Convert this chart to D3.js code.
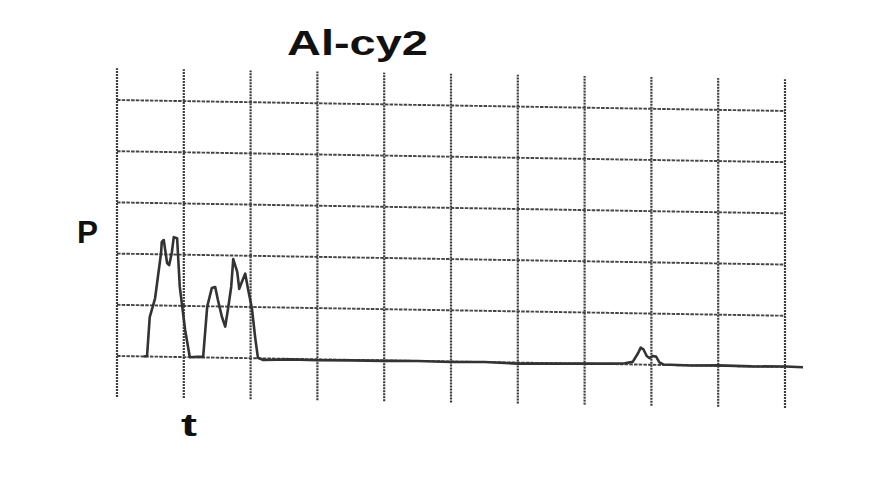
<!DOCTYPE html>
<html>
<head>
<meta charset="utf-8">
<script src="https://cdn.jsdelivr.net/npm/d3@7"></script>
<style>
  html, body { margin: 0; padding: 0; background: #fff; }
  svg { display: block; }
</style>
</head>
<body>
<script>
// Chart-recorder trace: power P against time t, Al-cy2 run
const title = "Al-cy2";
const yLabel = "P";
const xLabel = "t";

// grid divisions (time and power)
const xDivisions = [0, 1, 2, 3, 4, 5, 6, 7, 8, 9, 10];
const yDivisions = [0, 1, 2, 3, 4, 5];

// recorded trace, time in divisions
const traceT = [0.40, 0.45, 0.49, 0.57, 0.66, 0.67, 0.70, 0.75, 0.78, 0.82, 0.85, 0.90, 0.94, 1.02, 1.09, 1.20,
  1.29, 1.35, 1.42, 1.47, 1.51, 1.57, 1.62, 1.66, 1.71, 1.74, 1.80, 1.83, 1.87, 1.92, 1.96, 2.02, 2.07, 2.11, 2.19,
  2.6, 3.0, 3.5, 4.0, 4.5, 5.0, 5.5, 6.0, 6.5, 7.0, 7.4, 7.6, 7.72, 7.80, 7.84, 7.88, 7.93, 7.97, 8.02, 8.07, 8.12, 8.18,
  8.6, 9.0, 9.5, 10.0, 10.27];
// recorded trace, power in divisions
const traceP = [0.00, 0.01, 0.77, 1.14, 2.03, 2.24, 2.28, 1.83, 1.79, 2.03, 2.34, 2.32, 1.37, 0.53, 0.00, 0.01,
  0.01, 0.99, 1.36, 1.38, 1.13, 0.80, 0.61, 0.94, 1.39, 1.93, 1.68, 1.35, 1.49, 1.65, 1.36, 0.97, 0.39, 0.01, -0.03,
  -0.01, -0.02, -0.01, -0.01, 0.00, -0.01, 0.00, -0.02, -0.01, 0.00, 0.01, 0.02, 0.05, 0.22, 0.33, 0.30, 0.17, 0.13, 0.17, 0.16, 0.05, 0.01,
  0.00, 0.01, 0.00, 0.01, 0.00];

const width = 881, height = 480;
const svg = d3.select("body").append("svg")
  .attr("width", width).attr("height", height);

const x = d3.scaleLinear().domain([0, 10]).range([0, 668]);
const y = d3.scaleLinear().domain([0, 5]).range([0, -256]);

// the paper sits slightly skewed on the recorder
const plot = svg.append("g")
  .attr("transform", "translate(117,356) skewY(0.94)");

// vertical chart lines, running past the top and bottom rulings
plot.append("g").selectAll("line")
  .data(xDivisions).join("line")
  .attr("x1", d => x(d)).attr("x2", d => x(d))
  .attr("y1", y(-0.8)).attr("y2", y(5.62))
  .attr("stroke", "#3c3c3c")
  .attr("stroke-width", 2.2)
  .attr("stroke-dasharray", "2,1");

// horizontal chart lines
plot.append("g").selectAll("line")
  .data(yDivisions).join("line")
  .attr("x1", x(0)).attr("x2", x(10))
  .attr("y1", d => y(d)).attr("y2", d => y(d))
  .attr("stroke", "#444")
  .attr("stroke-width", 1.9)
  .attr("stroke-dasharray", "3.5,1.2");

// pen trace
const line = d3.line()
  .x((d, i) => x(traceT[i]))
  .y(d => y(d));

plot.append("path")
  .datum(traceP)
  .attr("d", line)
  .attr("fill", "none")
  .attr("stroke", "#333")
  .attr("stroke-width", 2.6)
  .attr("stroke-linejoin", "round");

// labels
const font = "'Liberation Sans', Arial, sans-serif";
svg.append("text")
  .attr("x", 287).attr("y", 55)
  .attr("font-family", font).attr("font-weight", "bold")
  .attr("font-size", 35)
  .attr("textLength", 141).attr("lengthAdjust", "spacingAndGlyphs")
  .attr("fill", "#111")
  .text(title);

svg.append("text")
  .attr("x", 77).attr("y", 243)
  .attr("font-family", font).attr("font-weight", "bold")
  .attr("font-size", 31)
  .attr("textLength", 21).attr("lengthAdjust", "spacingAndGlyphs")
  .attr("fill", "#111")
  .text(yLabel);

svg.append("text")
  .attr("x", 181).attr("y", 436)
  .attr("font-family", font).attr("font-weight", "bold")
  .attr("font-size", 31)
  .attr("textLength", 16).attr("lengthAdjust", "spacingAndGlyphs")
  .attr("fill", "#111")
  .text(xLabel);
</script>
</body>
</html>
